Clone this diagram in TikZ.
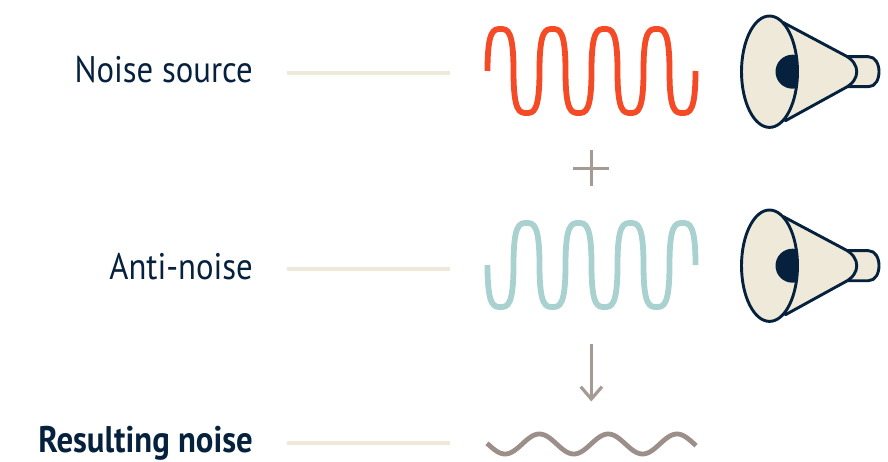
\documentclass[tikz,border=0pt]{standalone}
\usepackage{fontspec}
\setmainfont[FakeStretch=0.885]{PT Sans}
\definecolor{navy}{HTML}{05213D}
\definecolor{cream}{HTML}{EEE9D8}
\definecolor{noisered}{HTML}{F44A25}
\definecolor{antiteal}{HTML}{A9D1CF}
\definecolor{opgrey}{HTML}{A69A94}
\definecolor{resgrey}{HTML}{9C8F8A}
\tikzset{
  x=1pt,y=-1pt,
  lab/.style={text=navy,font=\fontsize{37}{40}\selectfont,anchor=base east,inner sep=0pt},
  guide/.style={draw=cream,line width=4pt},
  opline/.style={draw=opgrey,line width=3.2pt},
  wave/.style={line width=5.8pt,line join=round},
  spk/.style={draw=navy,line width=2.9pt,fill=cream,line join=round},
  pics/sqwave/.style={code={
    \draw[wave,#1] (0,0)
      .. controls (0,-41) and (6,-42) .. (13,-42) .. controls (20,-42) and (26,-41) .. (26,0)
      .. controls (26,41) and (32,42) .. (39,42) .. controls (46,42) and (52,41) .. (52,0)
      .. controls (52,-41) and (58,-42) .. (65,-42) .. controls (72,-42) and (78,-41) .. (78,0)
      .. controls (78,41) and (84,42) .. (91,42) .. controls (98,42) and (104,41) .. (104,0)
      .. controls (104,-41) and (110,-42) .. (117,-42) .. controls (124,-42) and (130,-41) .. (130,0)
      .. controls (130,41) and (136,42) .. (143,42) .. controls (150,42) and (156,41) .. (156,0)
      .. controls (156,-41) and (162,-42) .. (169,-42) .. controls (176,-42) and (182,-41) .. (182,0)
      .. controls (182,41) and (188,42) .. (195,42) .. controls (202,42) and (208,41) .. (208,0);
  }},
  pics/speaker/.style={code={
    \draw[spk] (62,-15) -- (99,-15) .. controls (113,-15) and (113,15) .. (99,15) -- (62,15) -- cycle;
    \draw[spk] (14,-49) -- (76,-16) .. controls (91,-8) and (91,8) .. (76,16) -- (16,49) -- cycle;
    \path[spk,draw=none] (0,0) ellipse[x radius=28,y radius=55.7];
    \begin{scope}
      \clip (0,0) ellipse[x radius=28,y radius=55.7];
      \fill[navy] (23,0) circle[radius=17];
    \end{scope}
    \draw[spk,fill=none] (0,0) ellipse[x radius=28,y radius=55.7];
  }}
}
\begin{document}
\begin{tikzpicture}
\useasboundingbox (0,0) rectangle (888,462);
\node[lab] (noise) at (253,83) {Noise source};
\node[lab] (anti) at (253,279) {Anti-noise};
\node[lab,font=\fontsize{37}{40}\selectfont\bfseries] (result) at (253,452) {Resulting noise};
\coordinate (g1a) at (287,72.7); \coordinate (g1b) at (450,72.7);
\coordinate (g2a) at (287,268.7); \coordinate (g2b) at (450,268.7);
\coordinate (g3a) at (287,442.7); \coordinate (g3b) at (450,442.7);
\draw[guide] (g1a) -- (g1b);
\draw[guide] (g2a) -- (g2b);
\draw[guide] (g3a) -- (g3b);
\pic at (487.5,71) {sqwave={noisered}};
\pic[yscale=-1] at (487.5,265) {sqwave={antiteal}};
\draw[wave,resgrey,line width=4.8pt] plot[domain=487:696,samples=120,smooth] (\x,{444+10*cos((\x-505)/34.4*180)});
\pic at (769.5,71.7) {speaker};
\pic at (769.5,265.7) {speaker};
\coordinate (pl) at (573,168.3); \coordinate (pr) at (609,168.3);
\coordinate (pt) at (591.3,150.5); \coordinate (pb) at (591.3,186);
\draw[opline] (pl) -- (pr);
\draw[opline] (pt) -- (pb);
\coordinate (as) at (591.3,344); \coordinate (at) at (591.3,399);
\coordinate (hl) at (580.7,386.7); \coordinate (hr) at (602,386.7);
\draw[opline] (as) -- (at);
\draw[opline] (hl) -- (at) -- (hr);
\end{tikzpicture}
\end{document}
